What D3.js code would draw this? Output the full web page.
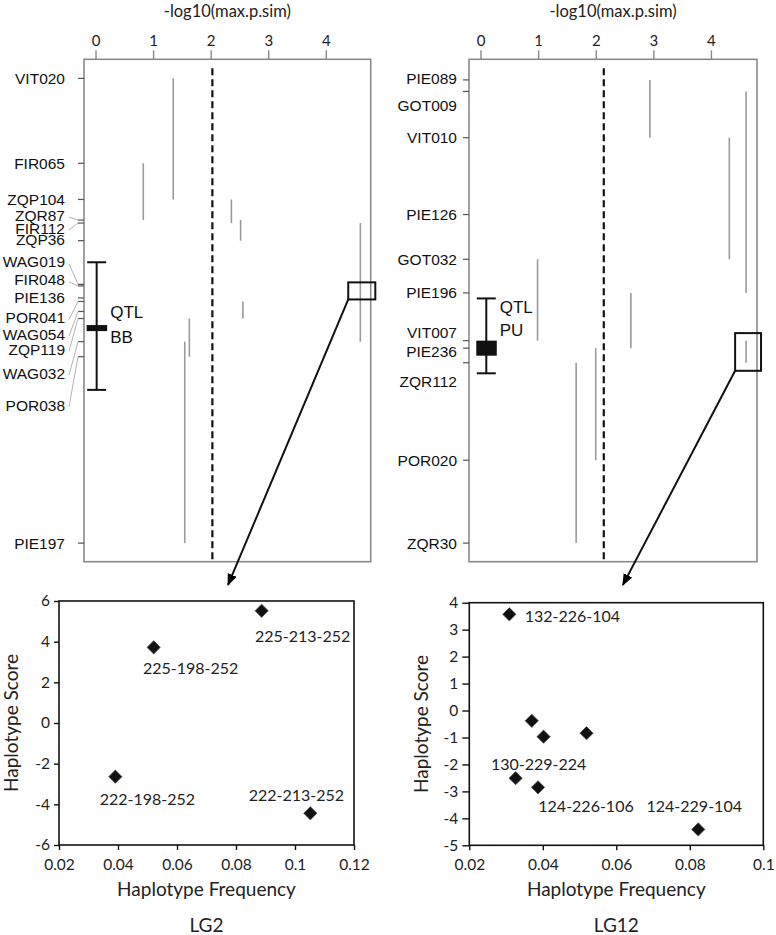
<!DOCTYPE html>
<html><head><meta charset="utf-8">
<script src="https://cdn.jsdelivr.net/npm/d3@7/dist/d3.min.js"></script>
<style>body{margin:0;background:#fff}svg{display:block}</style>
</head><body>
<svg id="c" width="776" height="935"></svg>
<script>
// ================= DATA =================
const pTicks = [0, 1, 2, 3, 4];
const axisTitle = "-log10(max.p.sim)";

// LG2 markers and map positions (cM)
const lg2Markers   = ["VIT020","FIR065","ZQP104","ZQR87","FIR112","ZQP36","WAG019","FIR048","PIE136","POR041","WAG054","ZQP119","WAG032","POR038","PIE197"];
const lg2Positions = [3.8, 20.7, 27.9, 32.0, 32.6, 36.1, 44.8, 45.1, 47.5, 48.2, 50.2, 51.6, 56.2, 59.2, 96.3];
// haplotype windows: first marker, last marker, -log10(max.p.sim)
const lg2WinStart = ["VIT020","FIR065","ZQP104","ZQR87","FIR112","POR041","ZQP119","WAG032"];
const lg2WinEnd   = ["ZQP104","ZQR87","FIR112","ZQP36","WAG032","ZQP119","POR038","PIE197"];
const lg2WinValue = [1.35, 0.83, 2.36, 2.52, 4.60, 2.56, 1.63, 1.55];
const lg2Threshold = 2.03;
const lg2Qtl = {name: ["QTL","BB"], x: 0.02, lo: 40.4, hi: 65.8, peakLo: 52.9, peakHi: 54.1};
const lg2Zoom = {x0: 4.39, x1: 4.86, y0: 44.4, y1: 47.8};

// LG12 markers
const lg12Markers   = ["PIE089","GOT009","VIT010","PIE126","GOT032","PIE196","VIT007","PIE236","ZQR112","POR020","ZQR30"];
const lg12Positions = [4.1, 6.4, 15.6, 30.9, 39.8, 46.5, 56.0, 57.5, 60.4, 79.8, 96.3];
const lg12WinStart = ["PIE089","GOT009","VIT010","GOT032","PIE196","VIT007","PIE236","ZQR112"];
const lg12WinEnd   = ["VIT010","PIE196","GOT032","VIT007","PIE236","ZQR112","POR020","ZQR30"];
const lg12WinValue = [2.94, 4.61, 4.32, 0.99, 2.61, 4.61, 2.00, 1.66];
const lg12Threshold = 2.14;
const lg12Qtl = {name: ["QTL","PU"], x: 0.1, lo: 47.6, hi: 62.5, peakLo: 56.0, peakHi: 59.0};
const lg12Zoom = {x0: 4.42, x1: 4.87, y0: 54.5, y1: 62.0};

// Haplotype scatter, LG2
const lg2HapFreq  = [0.0887, 0.0521, 0.0391, 0.1052];
const lg2HapScore = [5.52, 3.72, -2.64, -4.44];
const lg2HapName  = ["225-213-252","225-198-252","222-198-252","222-213-252"];
const lg2FreqTicks  = [0.02, 0.04, 0.06, 0.08, 0.1, 0.12];
const lg2ScoreTicks = [-6, -4, -2, 0, 2, 4, 6];

// Haplotype scatter, LG12
const lg12HapFreq  = [0.0309, 0.0370, 0.0402, 0.0519, 0.0326, 0.0387, 0.0823];
const lg12HapScore = [3.57, -0.38, -0.97, -0.84, -2.51, -2.85, -4.41];
const lg12HapName  = ["132-226-104", "", "", "", "130-229-224", "124-226-106", "124-229-104"];
const lg12FreqTicks  = [0.02, 0.04, 0.06, 0.08, 0.1];
const lg12ScoreTicks = [-5, -4, -3, -2, -1, 0, 1, 2, 3, 4];

const panelNames = ["LG2", "LG12"];

// ================= LAYOUT =================
const SANS = "'Liberation Sans', Arial, sans-serif";
const HUM = "Lato, 'Open Sans', sans-serif";
const svg = d3.select("#c");
svg.append("defs").append("marker")
  .attr("id","ah").attr("viewBox","0 0 10 10").attr("refX",9).attr("refY",5)
  .attr("markerWidth",12).attr("markerHeight",12).attr("markerUnits","userSpaceOnUse")
  .attr("orient","auto")
  .append("path").attr("d","M0,1L10,5L0,9z").attr("fill","#000");

const topY = [59.3, 561.7];

const topPanels = [
  {markers: lg2Markers, pos: lg2Positions, ws: lg2WinStart, we: lg2WinEnd, wv: lg2WinValue,
   thr: lg2Threshold, qtl: lg2Qtl, zoom: lg2Zoom, xr: [84, 370.7], xd: [-0.2, 4.78],
   labelX: 65, tickX: 78, leaders: true,
   labelPos: [3.8, 20.7, 27.9, 31.0, 33.6, 35.9, 40.3, 43.9, 47.4, 51.4, 54.7, 57.7, 62.5, 68.8, 96.3],
   qtlTextY: 50.3, qtlGap: 24.7},
  {markers: lg12Markers, pos: lg12Positions, ws: lg12WinStart, we: lg12WinEnd, wv: lg12WinValue,
   thr: lg12Threshold, qtl: lg12Qtl, zoom: lg12Zoom, xr: [469, 757], xd: [-0.2, 4.8],
   labelX: 457, tickX: 463, leaders: false,
   labelPos: [3.9, 9.1, 15.6, 30.9, 39.8, 46.5, 54.4, 58.2, 64.2, 79.8, 96.3],
   qtlTextY: 49.2, qtlGap: 23.3}
];

const scatterPanels = [
  {freq: lg2HapFreq, score: lg2HapScore, names: lg2HapName, xt: lg2FreqTicks, yt: lg2ScoreTicks,
   xr: [59, 354], yr: [845, 601], xd: [0.02, 0.12], yd: [-6, 6], ytick: 5, ylabX: 18,
   off: [[41, 25], [37, 21], [32, 23], [-14, -18]], arrowTo: [0.0773, 6.79]},
  {freq: lg12HapFreq, score: lg12HapScore, names: lg12HapName, xt: lg12FreqTicks, yt: lg12ScoreTicks,
   xr: [469.3, 763.3], yr: [845.3, 602.7], xd: [0.02, 0.1], yd: [-5, 4], ytick: 7, ylabX: 428,
   off: [[63, 2], [0,0], [0,0], [0,0], [23, -14], [48, 19], [-4, -23]], arrowTo: [0.0618, 4.66]}
];

const sx = [], sy = [];
scatterPanels.forEach((s, i) => {
  sx[i] = d3.scaleLinear().domain(s.xd).range(s.xr);
  sy[i] = d3.scaleLinear().domain(s.yd).range(s.yr);
});

// ================= TOP PANELS =================
topPanels.forEach((p, i) => {
  const x = d3.scaleLinear().domain(p.xd).range(p.xr);
  const y = d3.scaleLinear().domain([0, 100]).range(topY);
  const g = svg.append("g");
  const posOf = {};
  p.markers.forEach((m, k) => posOf[m] = p.pos[k]);

  // box
  g.append("rect").attr("x", p.xr[0]).attr("y", topY[0])
    .attr("width", p.xr[1]-p.xr[0]).attr("height", topY[1]-topY[0])
    .attr("fill","none").attr("stroke","#8a8a8a").attr("stroke-width",1.6);

  // top axis
  const ax = g.append("g").attr("transform", `translate(0,${topY[0]})`)
    .call(d3.axisTop(x).tickValues(pTicks).tickSize(9).tickPadding(4).tickFormat(d3.format("d")));
  ax.select(".domain").remove();
  ax.selectAll(".tick line").attr("stroke","#8a8a8a").attr("stroke-width",1.4);
  ax.selectAll(".tick text").attr("font-family", HUM).attr("font-size", 15).attr("fill","#222");

  g.append("text").attr("x", (p.xr[0]+p.xr[1])/2).attr("y", 16.5)
    .attr("text-anchor","middle").attr("font-family", HUM).attr("font-size", 16.5).attr("fill","#222")
    .text(axisTitle);

  // marker ticks & labels
  p.markers.forEach((m, k) => {
    const ty = y(p.pos[k]), ly = y(p.labelPos[k]);
    g.append("line").attr("x1", p.tickX).attr("x2", p.xr[0]).attr("y1", ty).attr("y2", ty)
      .attr("stroke","#555").attr("stroke-width",1.2);
    g.append("text").attr("x", p.labelX).attr("y", ly).attr("dy","0.36em")
      .attr("text-anchor","end").attr("font-family", SANS).attr("font-size", 15.5).attr("fill","#111")
      .text(m);
    if (p.leaders && Math.abs(ty - ly) > 2) {
      g.append("line").attr("x1", p.labelX + 4).attr("y1", ly + 2).attr("x2", p.tickX).attr("y2", ty)
        .attr("stroke","#aaa").attr("stroke-width",0.9);
    }
  });

  // windows
  p.wv.forEach((v, k) => {
    g.append("line").attr("x1", x(v)).attr("x2", x(v))
      .attr("y1", y(posOf[p.ws[k]])).attr("y2", y(posOf[p.we[k]]))
      .attr("stroke","#9a9a9a").attr("stroke-width",1.6);
  });

  // threshold
  g.append("line").attr("x1", x(p.thr)).attr("x2", x(p.thr))
    .attr("y1", topY[0] + 9).attr("y2", topY[1])
    .attr("stroke","#111").attr("stroke-width",2.2).attr("stroke-dasharray","7,4");

  // QTL interval
  const q = p.qtl, qx = x(q.x);
  g.append("line").attr("x1", qx).attr("x2", qx).attr("y1", y(q.lo)).attr("y2", y(q.hi))
    .attr("stroke","#111").attr("stroke-width",2);
  [q.lo, q.hi].forEach(v => g.append("line").attr("x1", qx-9.5).attr("x2", qx+9.5)
    .attr("y1", y(v)).attr("y2", y(v)).attr("stroke","#111").attr("stroke-width",2));
  g.append("rect").attr("x", qx-10).attr("width", 20.5).attr("y", y(q.peakLo))
    .attr("height", Math.max(5, y(q.peakHi)-y(q.peakLo))).attr("fill","#111");
  q.name.forEach((t, k) => g.append("text").attr("x", qx + 13.5)
    .attr("y", y(p.qtlTextY) + k*p.qtlGap).attr("dy","0.36em")
    .attr("font-family", SANS).attr("font-size", 17).attr("fill","#111").text(t));

  // zoom box + arrow
  const z = p.zoom;
  g.append("rect").attr("x", x(z.x0)).attr("y", y(z.y0))
    .attr("width", x(z.x1)-x(z.x0)).attr("height", y(z.y1)-y(z.y0))
    .attr("fill","none").attr("stroke","#111").attr("stroke-width",2);
  const s = scatterPanels[i];
  g.append("line").attr("x1", x(z.x0)).attr("y1", y(z.y1))
    .attr("x2", sx[i](s.arrowTo[0])).attr("y2", sy[i](s.arrowTo[1]))
    .attr("stroke","#111").attr("stroke-width",2).attr("marker-end","url(#ah)");
});

// ================= SCATTER PANELS =================
const fmt = d => String(+d.toFixed(2));
scatterPanels.forEach((s, i) => {
  const x = sx[i], y = sy[i];
  const g = svg.append("g");
  g.append("rect").attr("x", s.xr[0]).attr("y", s.yr[1])
    .attr("width", s.xr[1]-s.xr[0]).attr("height", s.yr[0]-s.yr[1])
    .attr("fill","none").attr("stroke","#111").attr("stroke-width",1.6);

  const xa = g.append("g").attr("transform", `translate(0,${s.yr[0]})`)
    .call(d3.axisBottom(x).tickValues(s.xt).tickSize(5).tickPadding(9).tickFormat(fmt));
  const ya = g.append("g").attr("transform", `translate(${s.xr[0]},0)`)
    .call(d3.axisLeft(y).tickValues(s.yt).tickSize(s.ytick).tickPadding(4).tickFormat(d => String(d)));
  [xa, ya].forEach(a => {
    a.select(".domain").remove();
    a.selectAll(".tick line").attr("stroke","#111").attr("stroke-width",1.4);
    a.selectAll(".tick text").attr("font-family", HUM).attr("font-size", 15.5).attr("fill","#222");
  });

  // points
  const sym = d3.symbol().type(d3.symbolSquare).size(88);
  s.freq.forEach((f, k) => {
    const px = x(f), py = y(s.score[k]);
    g.append("path").attr("d", sym()).attr("transform", `translate(${px},${py}) rotate(45)`)
      .attr("fill","#111").attr("stroke","#555").attr("stroke-width",0.8);
    if (s.names[k]) {
      g.append("text").attr("x", px + s.off[k][0]).attr("y", py + s.off[k][1]).attr("dy","0.36em")
        .attr("text-anchor","middle").attr("font-family", HUM).attr("font-size", 16).attr("fill","#222")
        .text(s.names[k]);
    }
  });

  const cx = (s.xr[0]+s.xr[1])/2;
  g.append("text").attr("x", cx).attr("y", 896).attr("text-anchor","middle")
    .attr("font-family", HUM).attr("font-size", 19).attr("fill","#222").text("Haplotype Frequency");
  g.append("text").attr("transform", `translate(${s.ylabX},${(s.yr[0]+s.yr[1])/2}) rotate(-90)`)
    .attr("text-anchor","middle").attr("font-family", HUM).attr("font-size", 19).attr("fill","#222")
    .text("Haplotype Score");
  g.append("text").attr("x", cx).attr("y", 932).attr("text-anchor","middle")
    .attr("font-family", HUM).attr("font-size", 19).attr("fill","#222").text(panelNames[i]);
});
</script>
</body></html>
